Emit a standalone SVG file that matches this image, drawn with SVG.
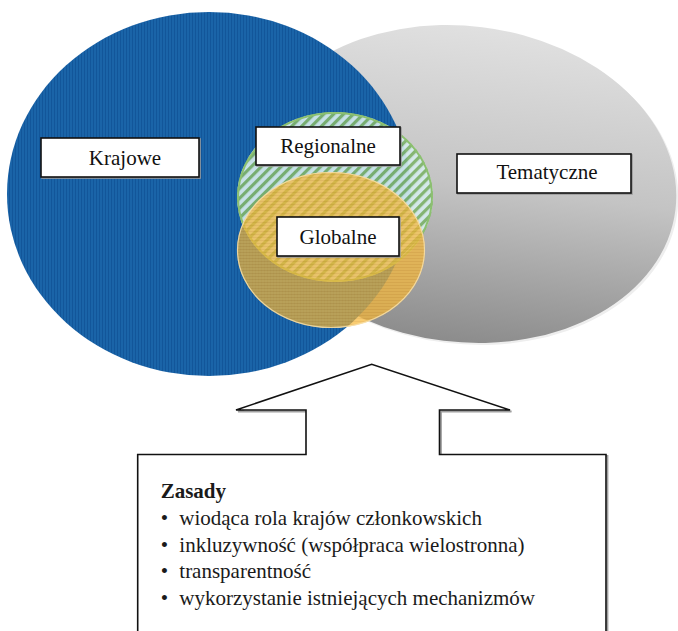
<svg xmlns="http://www.w3.org/2000/svg" width="678" height="631" viewBox="0 0 678 631">
<defs>
<style>
.lbl{font-family:'Liberation Serif','DejaVu Serif',serif;font-size:21px;fill:#111;text-anchor:middle}
.txt{font-family:'Liberation Serif','DejaVu Serif',serif;font-size:21px;fill:#1a1a1a}
.box{fill:#fff;stroke:#111;stroke-width:1.6}
.shadow{fill:none;stroke:#9a9a9a;stroke-width:1.6}
</style>
<linearGradient id="greyGrad" x1="0" y1="0" x2="0" y2="1">
<stop offset="0" stop-color="#e0e0e0"/>
<stop offset="0.5" stop-color="#c4c4c4"/>
<stop offset="1" stop-color="#8c8c8c"/>
</linearGradient>
<pattern id="blueStripes" width="3" height="3" patternUnits="userSpaceOnUse">
<rect width="3" height="3" fill="#1a64a8"/>
<rect width="1" height="3" fill="#12569a"/>
</pattern>
<pattern id="greenHatch" width="7" height="7" patternUnits="userSpaceOnUse" patternTransform="rotate(45)">
<rect width="7" height="7" fill="#d6ecee"/>
<rect width="3.2" height="7" fill="#7fb46c"/>
</pattern>
<pattern id="orangeStripes" width="3" height="3" patternUnits="userSpaceOnUse">
<rect width="3" height="3" fill="#f6b83a"/>
<rect width="3" height="1" fill="#eaa92e"/>
</pattern>
</defs>

<g id="tematyczne">
<ellipse cx="465" cy="186" rx="214" ry="158" transform="rotate(7 465 186)" fill="#eeeeee"/>
<ellipse cx="463" cy="184" rx="214" ry="158" transform="rotate(7 463 184)" fill="url(#greyGrad)"/>
</g>

<g id="krajowe">
<ellipse cx="209" cy="194" rx="202" ry="182" fill="url(#blueStripes)"/>
</g>

<g id="regionalne">
<ellipse cx="335" cy="197" rx="98" ry="85" fill="url(#greenHatch)" opacity="0.92"/>
<ellipse cx="335" cy="197" rx="97" ry="84" fill="none" stroke="#8cc070" stroke-width="2"/>
</g>

<g id="globalne">
<ellipse cx="331" cy="250" rx="94" ry="78" fill="url(#orangeStripes)" opacity="0.72"/>
<ellipse cx="331" cy="250" rx="93.5" ry="77.5" fill="none" stroke="#f7e2b0" stroke-width="1.2" opacity="0.8"/>
</g>

<g id="labels">
<g id="label-krajowe">
<rect x="42" y="139" width="158" height="39" class="shadow"/>
<rect x="41" y="138" width="158" height="39" class="box"/>
<text x="125" y="165" class="lbl" font-family="Liberation Serif, serif">Krajowe</text>
</g>
<g id="label-regionalne">
<rect x="257" y="128" width="144" height="38" class="shadow"/>
<rect x="256" y="127" width="144" height="38" class="box"/>
<text x="328" y="153" class="lbl" font-family="Liberation Serif, serif">Regionalne</text>
</g>
<g id="label-globalne">
<rect x="278" y="218" width="122" height="39" class="shadow"/>
<rect x="277" y="217" width="122" height="39" class="box"/>
<text x="338" y="244" class="lbl" font-family="Liberation Serif, serif">Globalne</text>
</g>
<g id="label-tematyczne">
<rect x="458" y="155" width="174" height="39" class="shadow"/>
<rect x="457" y="154" width="174" height="39" class="box"/>
<text x="547" y="179" class="lbl" font-family="Liberation Serif, serif">Tematyczne</text>
</g>
</g>

<g id="connectors">
<path d="M139,632 V456 H307.5 V411.5 H238 L372.7,365.8 L511.5,411.5 H441 V456 H607.5 V632" fill="none" stroke="#a0a0a0" stroke-width="1.8"/>
<path d="M137.7,632 V454.5 H306 V410 H236 L371.7,364.3 L510,410 H439.5 V454.5 H606 V632" fill="#fff" stroke="#111" stroke-width="1.6" stroke-linejoin="miter"/>
</g>

<g id="zasady" font-family="Liberation Serif, serif">
<text x="160.7" y="498" class="txt" font-weight="bold">Zasady</text>
<text x="160.7" y="525" class="txt">•</text>
<text x="179.3" y="525" class="txt">wiodąca rola krajów członkowskich</text>
<text x="160.7" y="551.5" class="txt">•</text>
<text x="179.3" y="551.5" class="txt">inkluzywność (współpraca wielostronna)</text>
<text x="160.7" y="578" class="txt">•</text>
<text x="179.3" y="578" class="txt">transparentność</text>
<text x="160.7" y="604.5" class="txt">•</text>
<text x="179.3" y="604.5" class="txt">wykorzystanie istniejących mechanizmów</text>
</g>
</svg>
